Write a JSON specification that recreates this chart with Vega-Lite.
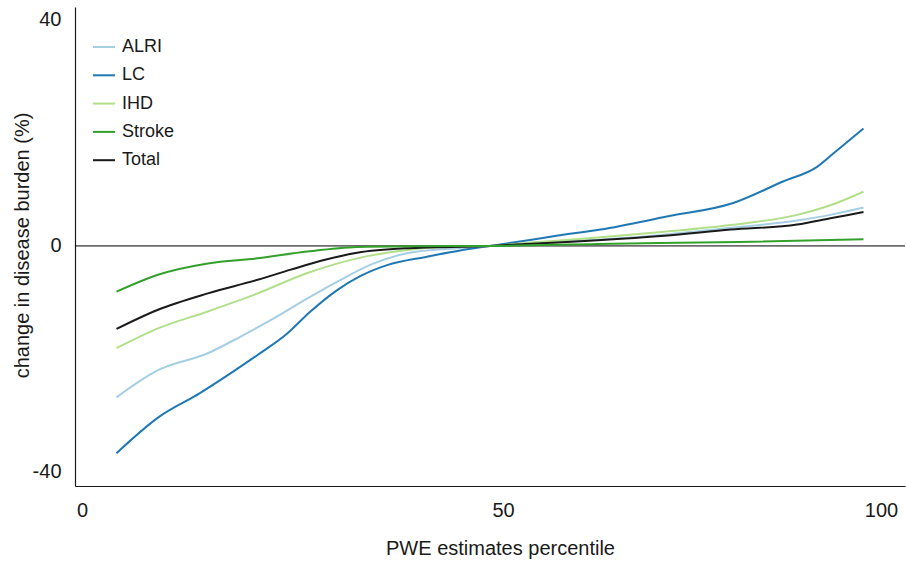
{
  "$schema": "https://vega.github.io/schema/vega-lite/v6.json",
  "width": 830,
  "height": 479,
  "autosize": {"type": "none"},
  "padding": {"left": 75, "top": 7, "right": 1, "bottom": 78},
  "background": "white",
  "config": {
    "view": {"stroke": null},
    "font": "Liberation Sans",
    "axis": {"domainColor": "#1a1a1a", "domainWidth": 1.2, "ticks": false, "grid": false, "labelFont": "Liberation Sans", "titleFont": "Liberation Sans", "labelColor": "#1a1a1a", "titleColor": "#1a1a1a", "titleFontWeight": "normal", "labelFontSize": 20, "titleFontSize": 20}
  },
  "data": {"values": [
    {"s":"ALRI","p":5,"v":-26.8},{"s":"ALRI","p":10,"v":-22.0},{"s":"ALRI","p":16,"v":-19.0},{"s":"ALRI","p":20,"v":-16.0},{"s":"ALRI","p":24,"v":-12.8},{"s":"ALRI","p":28,"v":-9.3},{"s":"ALRI","p":32,"v":-6.0},{"s":"ALRI","p":36,"v":-3.1},{"s":"ALRI","p":40,"v":-1.3},{"s":"ALRI","p":46,"v":-0.4},{"s":"ALRI","p":50,"v":0},{"s":"ALRI","p":55,"v":0.4},{"s":"ALRI","p":63,"v":1.1},{"s":"ALRI","p":71,"v":2.0},{"s":"ALRI","p":79,"v":3.2},{"s":"ALRI","p":87,"v":4.5},{"s":"ALRI","p":91,"v":5.5},{"s":"ALRI","p":95,"v":6.8},
    {"s":"LC","p":5,"v":-36.7},{"s":"LC","p":10,"v":-30.4},{"s":"LC","p":15,"v":-26.1},{"s":"LC","p":19,"v":-22.3},{"s":"LC","p":22,"v":-19.3},{"s":"LC","p":25.5,"v":-15.6},{"s":"LC","p":28.3,"v":-11.7},{"s":"LC","p":31.5,"v":-7.9},{"s":"LC","p":34.3,"v":-5.4},{"s":"LC","p":37.6,"v":-3.4},{"s":"LC","p":42.4,"v":-1.9},{"s":"LC","p":46.4,"v":-0.8},{"s":"LC","p":50,"v":0},{"s":"LC","p":55,"v":1.1},{"s":"LC","p":58,"v":1.8},{"s":"LC","p":63.3,"v":2.9},{"s":"LC","p":71.3,"v":5.2},{"s":"LC","p":79.3,"v":7.6},{"s":"LC","p":85.3,"v":11.4},{"s":"LC","p":89.4,"v":14.0},{"s":"LC","p":91.4,"v":16.4},{"s":"LC","p":95,"v":20.8},
    {"s":"IHD","p":5,"v":-18.1},{"s":"IHD","p":10,"v":-14.6},{"s":"IHD","p":16,"v":-11.6},{"s":"IHD","p":22,"v":-8.4},{"s":"IHD","p":28,"v":-4.8},{"s":"IHD","p":34,"v":-2.2},{"s":"IHD","p":40,"v":-0.7},{"s":"IHD","p":46,"v":-0.1},{"s":"IHD","p":50,"v":0},{"s":"IHD","p":55,"v":0.6},{"s":"IHD","p":63,"v":1.5},{"s":"IHD","p":71,"v":2.5},{"s":"IHD","p":79,"v":3.7},{"s":"IHD","p":87,"v":5.5},{"s":"IHD","p":91,"v":7.2},{"s":"IHD","p":95,"v":9.6},
    {"s":"Total","p":5,"v":-14.7},{"s":"Total","p":10,"v":-11.3},{"s":"Total","p":16,"v":-8.4},{"s":"Total","p":22,"v":-6.0},{"s":"Total","p":26,"v":-4.2},{"s":"Total","p":30,"v":-2.5},{"s":"Total","p":34,"v":-1.2},{"s":"Total","p":40,"v":-0.4},{"s":"Total","p":50,"v":0},{"s":"Total","p":55,"v":0.4},{"s":"Total","p":63,"v":1.0},{"s":"Total","p":71,"v":1.8},{"s":"Total","p":79,"v":2.9},{"s":"Total","p":87,"v":3.8},{"s":"Total","p":91,"v":4.9},{"s":"Total","p":95,"v":6.0},
    {"s":"Stroke","p":5,"v":-8.1},{"s":"Stroke","p":10,"v":-5.1},{"s":"Stroke","p":16,"v":-3.1},{"s":"Stroke","p":22,"v":-2.2},{"s":"Stroke","p":28,"v":-1.0},{"s":"Stroke","p":34,"v":-0.2},{"s":"Stroke","p":40,"v":-0.05},{"s":"Stroke","p":50,"v":0},{"s":"Stroke","p":63,"v":0.35},{"s":"Stroke","p":80,"v":0.7},{"s":"Stroke","p":95,"v":1.2}
  ]},
  "layer": [
    {
      "data": {"values": [{"z": 0}]},
      "mark": {"type": "rule", "color": "#000000", "strokeWidth": 1},
      "encoding": {"y": {"field": "z", "type": "quantitative", "scale": {"domain": [-42.5, 42.3], "nice": false, "zero": false}}}
    },
    {
      "mark": {"type": "line", "interpolate": "monotone", "strokeWidth": 2},
      "encoding": {
        "x": {"field": "p", "type": "quantitative",
              "scale": {"domain": [0, 100], "nice": false},
              "axis": {"values": [0, 50, 100], "title": "PWE estimates percentile", "labelPadding": 14, "labelFlush": false, "titlePadding": 18, "titleX": 425,
                       "labelOffset": {"condition": [{"test": "datum.value === 0", "value": 7}, {"test": "datum.value === 50", "value": 13}], "value": -24}}},
        "y": {"field": "v", "type": "quantitative",
              "scale": {"domain": [-42.5, 42.3], "nice": false, "zero": false},
              "axis": {"values": [-40, 0, 40], "labelExpr": "replace(datum.label, '−', '-')", "labelFlush": false, "title": "change in disease burden (%)", "labelPadding": 14, "titleX": -53, "titleY": 238, "titleBaseline": "middle", "titleAlign": "center", "titleAngle": -90}},
        "color": {"field": "s", "type": "nominal",
                  "scale": {"domain": ["ALRI", "LC", "IHD", "Stroke", "Total"], "range": ["#a6cee3", "#1f78b4", "#b2df8a", "#33a02c", "#1a1a1a"]},
                  "legend": {"title": null, "orient": "none", "legendX": 17, "legendY": 28, "symbolType": "stroke", "symbolSize": 484, "symbolStrokeWidth": 2, "labelFontSize": 18, "labelFont": "Liberation Sans", "labelColor": "#1a1a1a", "labelOffset": 6, "rowPadding": 7.3, "padding": 0}},
        "order": {"field": "p", "type": "quantitative"}
      }
    }
  ]
}
